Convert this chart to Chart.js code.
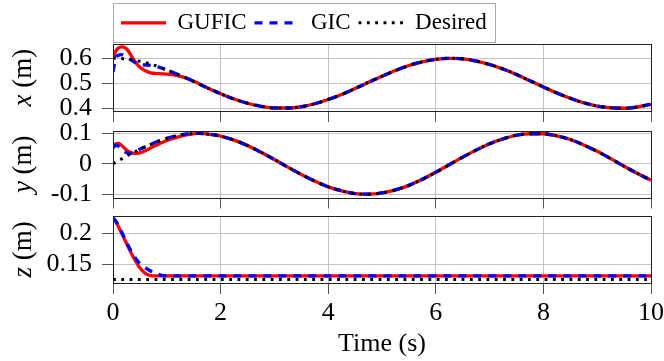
<!DOCTYPE html>
<html>
<head>
<meta charset="utf-8">
<script src="https://cdn.jsdelivr.net/npm/chart.js@4.4.1/dist/chart.umd.min.js"></script>
<style>
  body { margin: 0; background: #fff; }
  #wrap { position: relative; width: 664px; height: 361px; }
  #wrap canvas { position: absolute; left: 0; top: 0; }
</style>
</head>
<body>
<div id="wrap">
  <canvas id="chartX" width="664" height="361"></canvas>
  <canvas id="chartY" width="664" height="361"></canvas>
  <canvas id="chartZ" width="664" height="361"></canvas>
</div>
<script>
// time samples (s), denser during the start transient
const time = [0, 0.05, 0.1, 0.15, 0.2, 0.25, 0.3, 0.35, 0.4,
  0.5, 0.6, 0.7, 0.8, 0.9, 1.0, 1.1, 1.2,
  1.4, 1.6, 1.8, 2.0,
  2.25, 2.5, 2.75, 3.0, 3.25, 3.5, 3.75, 4.0,
  4.25, 4.5, 4.75, 5.0, 5.25, 5.5, 5.75, 6.0,
  6.25, 6.5, 6.75, 7.0, 7.25, 7.5, 7.75, 8.0,
  8.25, 8.5, 8.75, 9.0, 9.25, 9.5, 9.75, 10.0]

// x (m)
const desiredX = [0.600, 0.600, 0.5995, 0.599, 0.598, 0.597, 0.5955, 0.594, 0.592,
  0.588, 0.583, 0.576, 0.570, 0.562, 0.554, 0.545, 0.536,
  0.517, 0.497, 0.477, 0.458,
  0.437, 0.420, 0.408, 0.401, 0.401, 0.406, 0.418, 0.435,
  0.455, 0.479, 0.504, 0.528, 0.551, 0.571, 0.586, 0.596,
  0.600, 0.598, 0.589, 0.575, 0.557, 0.535, 0.510, 0.485,
  0.461, 0.440, 0.422, 0.409, 0.402, 0.400, 0.405, 0.416]
const guficX = [0.598, 0.628, 0.641, 0.646, 0.645, 0.638, 0.624, 0.606, 0.589,
  0.564, 0.550, 0.542, 0.539, 0.538, 0.537, 0.535, 0.531,
  0.518, 0.498, 0.477, 0.458,
  0.437, 0.420, 0.408, 0.401, 0.401, 0.406, 0.418, 0.435,
  0.455, 0.479, 0.504, 0.528, 0.551, 0.571, 0.586, 0.596,
  0.600, 0.598, 0.589, 0.575, 0.557, 0.535, 0.510, 0.485,
  0.461, 0.440, 0.422, 0.409, 0.402, 0.400, 0.405, 0.416]
const gicX = [0.546, 0.600, 0.612, 0.615, 0.612, 0.605, 0.598, 0.592, 0.585,
  0.576, 0.573, 0.572, 0.567, 0.561, 0.553, 0.545, 0.536,
  0.517, 0.497, 0.477, 0.458,
  0.437, 0.420, 0.408, 0.401, 0.401, 0.406, 0.418, 0.435,
  0.455, 0.479, 0.504, 0.528, 0.551, 0.571, 0.586, 0.596,
  0.600, 0.598, 0.589, 0.575, 0.557, 0.535, 0.510, 0.485,
  0.461, 0.440, 0.422, 0.409, 0.402, 0.400, 0.405, 0.416]

// y (m)
const desiredY = [0, 0.005, 0.010, 0.015, 0.020, 0.025, 0.030, 0.034, 0.039,
  0.048, 0.056, 0.064, 0.072, 0.078, 0.084, 0.089, 0.093,
  0.099, 0.100, 0.097, 0.091,
  0.078, 0.060, 0.038, 0.014, -0.011, -0.035, -0.057, -0.076,
  -0.089, -0.098, -0.100, -0.096, -0.086, -0.071, -0.051, -0.028,
  -0.003, 0.022, 0.045, 0.066, 0.082, 0.094, 0.099, 0.099,
  0.092, 0.080, 0.062, 0.041, 0.017, -0.008, -0.032, -0.054]
const guficY = [0.056, 0.066, 0.067, 0.062, 0.054, 0.046, 0.040, 0.036, 0.034,
  0.036, 0.043, 0.052, 0.061, 0.069, 0.077, 0.083, 0.088,
  0.096, 0.100, 0.097, 0.091,
  0.078, 0.060, 0.038, 0.014, -0.011, -0.035, -0.057, -0.076,
  -0.089, -0.098, -0.100, -0.096, -0.086, -0.071, -0.051, -0.028,
  -0.003, 0.022, 0.045, 0.066, 0.082, 0.094, 0.099, 0.099,
  0.092, 0.080, 0.062, 0.041, 0.017, -0.008, -0.032, -0.054]
const gicY = [0.052, 0.061, 0.058, 0.050, 0.042, 0.037, 0.034, 0.035, 0.039,
  0.048, 0.056, 0.064, 0.072, 0.078, 0.084, 0.089, 0.093,
  0.099, 0.100, 0.097, 0.091,
  0.078, 0.060, 0.038, 0.014, -0.011, -0.035, -0.057, -0.076,
  -0.089, -0.098, -0.100, -0.096, -0.086, -0.071, -0.051, -0.028,
  -0.003, 0.022, 0.045, 0.066, 0.082, 0.094, 0.099, 0.099,
  0.092, 0.080, 0.062, 0.041, 0.017, -0.008, -0.032, -0.054]

// z (m), flat after the first second so fewer samples
const zTime = [0, 0.05, 0.1, 0.15, 0.2, 0.25, 0.3, 0.35, 0.4, 0.5, 0.6, 0.7, 0.8, 0.9, 1.0, 1.2, 2, 4, 6, 8, 10]
const desiredZ = [0.125, 0.125, 0.125, 0.125, 0.125, 0.125, 0.125, 0.125, 0.125, 0.125, 0.125,
  0.125, 0.125, 0.125, 0.125, 0.125, 0.125, 0.125, 0.125, 0.125, 0.125]
const guficZ = [0.224, 0.219, 0.211, 0.202, 0.193, 0.184, 0.175, 0.166, 0.158, 0.144, 0.135,
  0.1315, 0.131, 0.131, 0.131, 0.131, 0.131, 0.131, 0.131, 0.131, 0.131]
const gicZ = [0.225, 0.220, 0.213, 0.204, 0.195, 0.186, 0.177, 0.169, 0.162, 0.151, 0.144,
  0.139, 0.135, 0.132, 0.131, 0.131, 0.131, 0.131, 0.131, 0.131, 0.131]

// tick labels
const timeTicks = [0, 2, 4, 6, 8, 10]
const xTicks = [0.4, 0.5, 0.6]
const yTicks = [-0.1, 0, 0.1]
const zTicks = [0.15, 0.2]

Chart.defaults.font.family = '"Liberation Serif", "Times New Roman", serif'
Chart.defaults.font.size = 26
Chart.defaults.color = '#000'

const gridColor = '#c4c4c4'
const tickColor = '#555'
const serif = '"Liberation Serif", serif'

function points(ts, vals) {
    return ts.map((t, i) => ({ x: t, y: vals[i] }))
}

function series(label, ts, vals, color, dash, width, order) {
    return {
        label,
        data: points(ts, vals),
        borderColor: color,
        backgroundColor: color,
        borderWidth: width,
        borderDash: dash,
        order,
        pointRadius: 0,
        fill: false,
        cubicInterpolationMode: 'monotone'
    }
}

function threeSeries(ts, gufic, gic, desiredTs, desired) {
    return [
        series('GUFIC', ts, gufic, '#ff0000', [], 3.3, 3),
        series('GIC', ts, gic, '#0000ff', [8, 7], 3.3, 2),
        series('Desired', desiredTs, desired, '#000000', [2.8, 5.5], 3, 1)
    ]
}

// box round each panel
const frame = {
    id: 'frame',
    afterDatasetsDraw(chart) {
        const { ctx, chartArea: a } = chart
        const l = Math.round(a.left), t = Math.round(a.top)
        const r = Math.round(a.right), b = Math.round(a.bottom)
        ctx.save()
        ctx.strokeStyle = '#222'
        ctx.lineWidth = 1
        ctx.strokeRect(l + 0.5, t + 0.5, r - l, b - t)
        ctx.restore()
    }
}

// rotated "x (m)" with an italic variable name
const axisName = {
    id: 'axisName',
    afterDraw(chart, args, opts) {
        const { ctx, chartArea } = chart
        const mid = (chartArea.top + chartArea.bottom) / 2
        const italic = 'italic 27px ' + serif
        const upright = '27px ' + serif
        ctx.save()
        ctx.font = italic
        const w1 = ctx.measureText(opts.text).width
        ctx.font = upright
        const w2 = ctx.measureText(' (m)').width
        ctx.translate(31, mid)
        ctx.rotate(-Math.PI / 2)
        ctx.fillStyle = '#000'
        ctx.textAlign = 'left'
        ctx.textBaseline = 'alphabetic'
        const start = -(w1 + w2) / 2
        ctx.font = italic
        ctx.fillText(opts.text, start, 0)
        ctx.font = upright
        ctx.fillText(' (m)', start + w1, 0)
        ctx.restore()
    }
}

// border round the legend
const legendFrame = {
    id: 'legendFrame',
    afterDraw(chart) {
        const lg = chart.legend
        if (!lg || !lg.legendHitBoxes.length) return
        const last = lg.legendHitBoxes[lg.legendHitBoxes.length - 1]
        const right = last.left + last.width + 8
        const ctx = chart.ctx
        ctx.save()
        ctx.strokeStyle = '#aaa'
        ctx.lineWidth = 1
        ctx.strokeRect(Math.round(lg.left) + 0.5, Math.round(lg.top) + 0.5,
            Math.round(right - lg.left), Math.round(lg.height - 2))
        ctx.restore()
    }
}

function timeAxis(showLabels, height) {
    return {
        type: 'linear',
        min: 0,
        max: 10,
        afterBuildTicks: s => { s.ticks = timeTicks.map(v => ({ value: v })) },
        afterFit: s => {
            s.height = height
            // labels may overhang the plot edges, as in the original
            s.paddingLeft = 0
            s.paddingRight = 0
        },
        grid: { color: gridColor, tickColor: tickColor, tickLength: 11 },
        border: { display: false },
        ticks: { display: showLabels, padding: 4, maxRotation: 0, autoSkip: false },
        title: {
            display: showLabels,
            text: 'Time (s)',
            font: { size: 26 },
            padding: { top: 0, bottom: 1 }
        }
    }
}

function valueAxis(min, max, tickValues) {
    return {
        type: 'linear',
        min,
        max,
        afterBuildTicks: s => { s.ticks = tickValues.map(v => ({ value: v })) },
        afterFit: s => { s.width = 113 },
        grid: { color: gridColor, tickColor: tickColor, tickLength: 11 },
        border: { display: false },
        ticks: { padding: 10, autoSkip: false, callback: v => String(v) }
    }
}

function makeChart(id, datasets, yAxis, xAxis, padding, name, legend) {
    return new Chart(document.getElementById(id), {
        type: 'line',
        data: { datasets },
        options: {
            responsive: false,
            animation: false,
            devicePixelRatio: 1,
            events: [],
            layout: { padding },
            scales: { x: xAxis, y: yAxis },
            plugins: {
                legend: legend || { display: false },
                tooltip: { enabled: false },
                axisName: { text: name }
            }
        },
        plugins: legend ? [frame, axisName, legendFrame] : [frame, axisName]
    })
}

const legendOptions = {
    display: true,
    position: 'top',
    align: 'start',
    fullSize: false,
    labels: {
        font: { size: 23 },
        padding: 8,
        usePointStyle: true,
        pointStyleWidth: 45,
        sort: (a, b) => a.datasetIndex - b.datasetIndex,
        generateLabels(chart) {
            const items = Chart.defaults.plugins.legend.labels.generateLabels(chart)
            return items.map(item => {
                const ds = chart.data.datasets[item.datasetIndex]
                item.pointStyle = 'line'
                item.lineDash = ds.borderDash
                item.lineWidth = ds.borderWidth
                item.strokeStyle = ds.borderColor
                return item
            })
        }
    }
}

makeChart('chartX', threeSeries(time, guficX, gicX, time, desiredX),
    valueAxis(0.389, 0.656, xTicks), timeAxis(false, 11),
    { top: 3.3, bottom: 239, left: 0, right: 13 }, 'x', legendOptions)

makeChart('chartY', threeSeries(time, guficY, gicY, time, desiredY),
    valueAxis(-0.111, 0.108, yTicks), timeAxis(false, 11),
    { top: 131, bottom: 152.5, left: 0, right: 13 }, 'y')

makeChart('chartZ', threeSeries(zTime, guficZ, gicZ, zTime, desiredZ),
    valueAxis(0.1195, 0.228, zTicks), timeAxis(true, 78),
    { top: 216, bottom: 0, left: 0, right: 13 }, 'z')
</script>
</body>
</html>
